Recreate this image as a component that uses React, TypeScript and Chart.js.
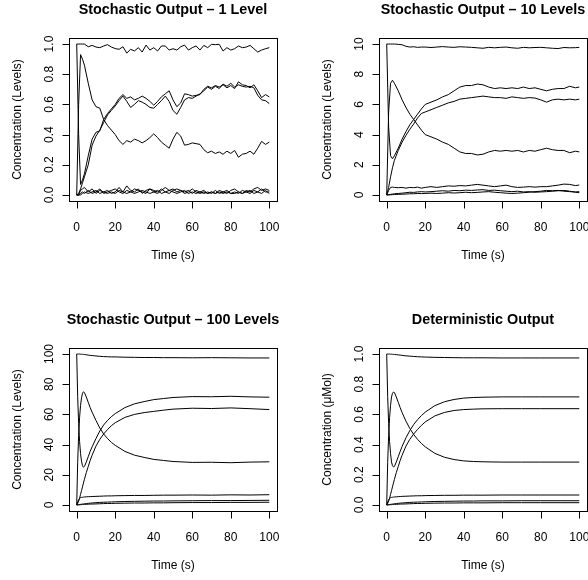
import React, { useEffect, useRef } from "react";
import { Chart, registerables } from "chart.js";
Chart.register(...registerables);

const FONT = '"Liberation Sans", Arial, Helvetica, sans-serif';

const X_TICKS = [0, 20, 40, 60, 80, 100];
const X_TICK_LABELS = ["0", "20", "40", "60", "80", "100"];
const X_TITLE = "Time (s)";

// ---------- Panel 1: Stochastic Output – 1 Level ----------
const T1 = [0, 1, 2, 3, 4, 6, 8, 10, 12, 14,
  16, 18, 20, 22, 24, 26, 28, 30, 32, 34,
  36, 38, 40, 42, 44, 46, 48, 50, 52, 54,
  56, 58, 60, 62, 64, 66, 68, 70, 72, 74,
  76, 78, 80, 82, 84, 86, 88, 90, 92, 94,
  96, 98, 100];
const A1 = [1, 1, 1, 1, 1, 0.982, 0.991, 0.98, 0.976, 0.987,
  0.996, 0.98, 0.97, 0.965, 0.982, 0.94, 0.965, 0.954, 0.976, 0.947,
  0.993, 0.96, 0.976, 0.954, 0.987, 0.987, 0.96, 0.969, 0.96, 0.982,
  0.993, 0.96, 0.976, 0.987, 0.96, 0.991, 0.976, 0.998, 0.996, 0.998,
  0.954, 0.976, 0.96, 0.969, 0.987, 0.976, 0.98, 0.991, 0.969, 0.947,
  0.96, 0.969, 0.976];
const B1 = [0, 0.6, 0.93, 0.9, 0.86, 0.74, 0.63, 0.585, 0.575, 0.5,
  0.46, 0.43, 0.4, 0.36, 0.335, 0.36, 0.35, 0.37, 0.36, 0.345,
  0.36, 0.38, 0.405, 0.38, 0.35, 0.33, 0.31, 0.37, 0.415, 0.39,
  0.33, 0.335, 0.345, 0.34, 0.335, 0.3, 0.28, 0.29, 0.275, 0.285,
  0.27, 0.29, 0.275, 0.295, 0.25, 0.27, 0.275, 0.29, 0.27, 0.31,
  0.355, 0.335, 0.35];
const C1 = [1, 0.4, 0.07, 0.1, 0.14, 0.26, 0.37, 0.415, 0.425, 0.5,
  0.54, 0.57, 0.6, 0.64, 0.665, 0.64, 0.65, 0.63, 0.64, 0.655,
  0.64, 0.62, 0.595, 0.62, 0.65, 0.67, 0.69, 0.63, 0.585, 0.61,
  0.67, 0.665, 0.655, 0.66, 0.665, 0.7, 0.72, 0.71, 0.725, 0.715,
  0.73, 0.71, 0.725, 0.705, 0.75, 0.73, 0.725, 0.71, 0.73, 0.69,
  0.645, 0.665, 0.65];
const D1 = [0, 0.01, 0.04, 0.08, 0.12, 0.2, 0.33, 0.39, 0.43, 0.48,
  0.53, 0.56, 0.59, 0.625, 0.655, 0.62, 0.58, 0.6, 0.625, 0.615,
  0.6, 0.58, 0.575, 0.6, 0.625, 0.655, 0.62, 0.56, 0.535, 0.58,
  0.63, 0.645, 0.64, 0.655, 0.67, 0.69, 0.715, 0.7, 0.72, 0.705,
  0.735, 0.72, 0.74, 0.715, 0.73, 0.72, 0.715, 0.72, 0.71, 0.66,
  0.63, 0.625, 0.605];
const E1 = [0, 0, 0.03, 0.04, 0.05, 0.02, 0.04, 0.01, 0.03, 0.02,
  0.03, 0.01, 0.02, 0.05, 0.02, 0.06, 0.03, 0.02, 0.04, 0.01,
  0.03, 0.04, 0.02, 0.01, 0.03, 0.05, 0.03, 0.04, 0.02, 0.03,
  0.01, 0.02, 0.04, 0.02, 0.01, 0.02, 0.01, 0.02, 0.01, 0.03,
  0.02, 0.01, 0.03, 0.04, 0.02, 0.01, 0.03, 0.02, 0.04, 0.05,
  0.03, 0.04, 0.03];
const F1 = [0, 0, 0.01, 0.02, 0.01, 0.03, 0.01, 0.02, 0.04, 0.01,
  0.02, 0.03, 0.04, 0.02, 0.01, 0.03, 0.02, 0.04, 0.03, 0.02,
  0.01, 0.04, 0.03, 0.02, 0.04, 0.02, 0.01, 0.03, 0.04, 0.03,
  0.02, 0.03, 0.01, 0.03, 0.02, 0.01, 0.02, 0.01, 0.03, 0.01,
  0.02, 0.03, 0.01, 0.02, 0.01, 0.03, 0.02, 0.01, 0.03, 0.02,
  0.04, 0.02, 0.02];
const G1 = [0, 0, 0, 0.01, 0.02, 0.01, 0.02, 0.03, 0.01, 0.02,
  0.01, 0.02, 0.01, 0.03, 0.02, 0.01, 0.02, 0.01, 0.02, 0.03,
  0.02, 0.01, 0.02, 0.03, 0.01, 0.02, 0.03, 0.02, 0.01, 0.02,
  0.03, 0.01, 0.02, 0.01, 0.02, 0.03, 0.01, 0.02, 0.01, 0.02,
  0.01, 0.02, 0.01, 0.01, 0.02, 0.01, 0.02, 0.03, 0.01, 0.02,
  0.01, 0.03, 0.01];

// ---------- Panel 2: Stochastic Output – 10 Levels ----------
const T2 = [0, 1, 2, 3, 4, 6, 8, 10, 12, 14,
  16, 18, 20, 23, 26, 29, 32, 35, 38, 41,
  44, 47, 50, 53, 56, 59, 62, 65, 68, 71,
  74, 77, 80, 83, 86, 89, 92, 95, 98, 100];
const A2 = [10, 10, 10, 10, 10, 9.98, 9.95, 9.85, 9.8, 9.82,
  9.78, 9.8, 9.8, 9.77, 9.8, 9.83, 9.8, 9.78, 9.82, 9.8,
  9.78, 9.75, 9.72, 9.78, 9.75, 9.78, 9.8, 9.75, 9.72, 9.78,
  9.75, 9.77, 9.78, 9.75, 9.72, 9.7, 9.77, 9.75, 9.76, 9.78];
const B2 = [0, 5.5, 7.4, 7.6, 7.4, 6.9, 6.3, 5.8, 5.35, 5.0,
  4.65, 4.3, 4.0, 3.85, 3.7, 3.5, 3.35, 3.1, 2.85, 2.75,
  2.75, 2.65, 2.7, 2.85, 2.95, 2.9, 2.95, 2.9, 2.95, 2.85,
  2.95, 2.9, 3.0, 3.1, 3.0, 2.95, 2.95, 2.8, 2.9, 2.85];
const C2 = [10, 4.5, 2.6, 2.4, 2.6, 3.1, 3.7, 4.2, 4.65, 5.0,
  5.35, 5.7, 6.0, 6.15, 6.3, 6.5, 6.65, 6.9, 7.15, 7.25,
  7.25, 7.35, 7.3, 7.15, 7.05, 7.1, 7.05, 7.1, 7.05, 7.15,
  7.05, 7.1, 7.0, 6.9, 7.0, 7.05, 7.05, 7.2, 7.1, 7.15];
const D2 = [0, 0.5, 1.2, 1.8, 2.3, 2.95, 3.5, 3.95, 4.35, 4.7,
  5.1, 5.4, 5.5, 5.65, 5.8, 5.95, 6.1, 6.2, 6.35, 6.4,
  6.45, 6.5, 6.55, 6.5, 6.45, 6.45, 6.4, 6.5, 6.45, 6.4,
  6.45, 6.42, 6.3, 6.15, 6.3, 6.35, 6.3, 6.35, 6.3, 6.35];
const E2 = [0, 0.3, 0.5, 0.52, 0.5, 0.48, 0.5, 0.45, 0.5, 0.48,
  0.52, 0.45, 0.5, 0.55, 0.5, 0.55, 0.6, 0.58, 0.62, 0.6,
  0.65, 0.7, 0.65, 0.6, 0.55, 0.6, 0.65, 0.55, 0.5, 0.52,
  0.55, 0.52, 0.55, 0.55, 0.6, 0.65, 0.72, 0.7, 0.62, 0.66];
const F2 = [0, 0.02, 0.04, 0.06, 0.08, 0.1, 0.12, 0.15, 0.18, 0.17,
  0.2, 0.22, 0.2, 0.22, 0.25, 0.28, 0.25, 0.3, 0.28, 0.32,
  0.3, 0.33, 0.35, 0.3, 0.32, 0.28, 0.25, 0.22, 0.25, 0.2,
  0.22, 0.18, 0.2, 0.22, 0.25, 0.28, 0.3, 0.25, 0.18, 0.15];
const G2 = [0, 0, 0.01, 0.02, 0.03, 0.04, 0.05, 0.06, 0.08, 0.08,
  0.1, 0.09, 0.1, 0.12, 0.1, 0.12, 0.15, 0.13, 0.15, 0.18,
  0.15, 0.17, 0.2, 0.22, 0.18, 0.15, 0.12, 0.1, 0.12, 0.15,
  0.18, 0.22, 0.25, 0.3, 0.28, 0.3, 0.25, 0.22, 0.2, 0.22];

// ---------- Panel 3: Stochastic Output – 100 Levels ----------
const T3 = [0, 0.5, 1, 1.5, 2, 2.5, 3, 3.5, 4, 5,
  6, 7, 8, 10, 12, 14, 16, 18, 20, 25,
  30, 35, 40, 45, 50, 60, 70, 80, 90, 100];
const A3 = [100, 100, 100, 100, 99.9, 99.9, 99.8, 99.8, 99.7, 99.5,
  99.3, 99.1, 99.0, 98.7, 98.5, 98.3, 98.2, 98.1, 98.1, 97.9,
  97.8, 97.7, 97.7, 97.6, 97.6, 97.5, 97.6, 97.5, 97.4, 97.4];
const B3 = [0, 28, 46, 58, 66, 71, 74, 75, 74.5, 71.5,
  68, 64.5, 61.5, 56, 51, 47, 44, 41.5, 39.5, 35.5,
  33, 31.5, 30.2, 29.5, 28.8, 28.2, 28.3, 28.0, 28.4, 28.6];
const C3 = [100, 72, 54, 42, 34, 29, 26, 25, 25.5, 28.5,
  32, 35.5, 38.5, 44, 49, 53, 56, 58.5, 60.5, 64.5,
  67, 68.5, 69.8, 70.5, 71.2, 71.8, 71.7, 72.0, 71.6, 71.4];
const D3 = [0, 1, 2.5, 4.5, 7, 9.5, 12, 14.5, 17, 21.5,
  25.5, 29.5, 33, 39, 43.5, 47, 50, 52.5, 54.5, 58,
  60, 61.2, 62, 62.8, 63.5, 64.1, 63.9, 64.3, 63.8, 63.2];
const E3 = [0, 2, 3.5, 4.3, 4.8, 5, 5.1, 5.2, 5.3, 5.4,
  5.5, 5.5, 5.6, 5.7, 5.8, 5.9, 6.0, 6.0, 6.1, 6.2,
  6.3, 6.3, 6.4, 6.5, 6.5, 6.6, 6.5, 6.7, 6.6, 6.8];
const F3 = [0, 0.1, 0.2, 0.3, 0.4, 0.5, 0.6, 0.7, 0.8, 0.9,
  1.1, 1.2, 1.3, 1.5, 1.7, 1.8, 1.9, 2.0, 2.1, 2.3,
  2.4, 2.5, 2.6, 2.6, 2.7, 2.8, 2.9, 2.9, 3.0, 3.1];
const G3 = [0, 0, 0.1, 0.1, 0.2, 0.2, 0.3, 0.3, 0.4, 0.4,
  0.5, 0.6, 0.6, 0.7, 0.8, 0.9, 1.0, 1.0, 1.1, 1.2,
  1.3, 1.3, 1.4, 1.4, 1.5, 1.6, 1.6, 1.7, 1.7, 1.8];

// ---------- Panel 4: Deterministic Output ----------
const T4 = [0, 0.5, 1, 1.5, 2, 2.5, 3, 3.5, 4, 5,
  6, 7, 8, 10, 12, 14, 16, 18, 20, 25,
  30, 35, 40, 45, 50, 60, 70, 80, 90, 100];
const A4 = [1, 1, 1, 1, 0.999, 0.999, 0.998, 0.998, 0.997, 0.996,
  0.994, 0.993, 0.991, 0.988, 0.986, 0.984, 0.982, 0.981, 0.98, 0.978,
  0.977, 0.976, 0.975, 0.975, 0.975, 0.974, 0.974, 0.974, 0.974, 0.974];
const B4 = [0, 0.28, 0.46, 0.58, 0.66, 0.715, 0.74, 0.748, 0.745, 0.715,
  0.68, 0.645, 0.612, 0.555, 0.507, 0.467, 0.435, 0.408, 0.385, 0.342,
  0.316, 0.301, 0.292, 0.288, 0.286, 0.284, 0.284, 0.284, 0.284, 0.284];
const C4 = [1, 0.72, 0.54, 0.42, 0.34, 0.285, 0.26, 0.252, 0.255, 0.285,
  0.32, 0.355, 0.388, 0.445, 0.493, 0.533, 0.565, 0.592, 0.615, 0.658,
  0.684, 0.699, 0.708, 0.712, 0.714, 0.716, 0.716, 0.716, 0.716, 0.716];
const D4 = [0, 0.01, 0.025, 0.045, 0.07, 0.095, 0.12, 0.145, 0.17, 0.215,
  0.255, 0.295, 0.33, 0.39, 0.435, 0.47, 0.5, 0.527, 0.55, 0.59,
  0.613, 0.626, 0.632, 0.635, 0.637, 0.638, 0.638, 0.638, 0.638, 0.638];
const E4 = [0, 0.02, 0.035, 0.043, 0.048, 0.05, 0.051, 0.052, 0.053, 0.054,
  0.055, 0.056, 0.057, 0.058, 0.059, 0.06, 0.061, 0.061, 0.062, 0.063,
  0.064, 0.064, 0.065, 0.065, 0.065, 0.066, 0.066, 0.066, 0.066, 0.066];
const F4 = [0, 0.001, 0.002, 0.003, 0.004, 0.005, 0.006, 0.007, 0.008, 0.009,
  0.011, 0.012, 0.013, 0.015, 0.017, 0.018, 0.019, 0.02, 0.021, 0.023,
  0.024, 0.025, 0.026, 0.026, 0.027, 0.027, 0.028, 0.028, 0.028, 0.028];
const G4 = [0, 0, 0.001, 0.001, 0.002, 0.002, 0.003, 0.003, 0.004, 0.004,
  0.005, 0.006, 0.006, 0.007, 0.008, 0.009, 0.01, 0.01, 0.011, 0.012,
  0.013, 0.013, 0.014, 0.014, 0.014, 0.015, 0.015, 0.015, 0.015, 0.015];

const Y_TICKS_UNIT = [0, 0.2, 0.4, 0.6, 0.8, 1.0];
const Y_LABELS_UNIT = ["0.0", "0.2", "0.4", "0.6", "0.8", "1.0"];
const Y_TICKS_10 = [0, 2, 4, 6, 8, 10];
const Y_LABELS_10 = ["0", "2", "4", "6", "8", "10"];
const Y_TICKS_100 = [0, 20, 40, 60, 80, 100];
const Y_LABELS_100 = ["0", "20", "40", "60", "80", "100"];

type PanelDef = {
  title: string;
  yTitle: string;
  yTicks: number[];
  yLabels: string[];
  yTop: number;
  time: number[];
  series: number[][];
};

const PANELS: PanelDef[] = [
  { title: "Stochastic Output \u2013 1 Level", yTitle: "Concentration (Levels)", yTicks: Y_TICKS_UNIT, yLabels: Y_LABELS_UNIT, yTop: 1, time: T1, series: [A1, B1, C1, D1, E1, F1, G1] },
  { title: "Stochastic Output \u2013 10 Levels", yTitle: "Concentration (Levels)", yTicks: Y_TICKS_10, yLabels: Y_LABELS_10, yTop: 10, time: T2, series: [A2, B2, C2, D2, E2, F2, G2] },
  { title: "Stochastic Output \u2013 100 Levels", yTitle: "Concentration (Levels)", yTicks: Y_TICKS_100, yLabels: Y_LABELS_100, yTop: 100, time: T3, series: [A3, B3, C3, D3, E3, F3, G3] },
  { title: "Deterministic Output", yTitle: "Concentration (\u03bcMol)", yTicks: Y_TICKS_UNIT, yLabels: Y_LABELS_UNIT, yTop: 1, time: T4, series: [A4, B4, C4, D4, E4, F4, G4] },
];

const CELL = 310;

function Panel({ def, left, top }: { def: PanelDef; left: number; top: number }) {
  const ref = useRef<HTMLCanvasElement | null>(null);
  useEffect(() => {
    const canvas = ref.current;
    if (!canvas) return;
    const rAxes = {
      id: "rAxes",
      afterDraw(chart: any) {
        const { ctx, chartArea: a, scales } = chart;
        const xs = scales.x;
        const ys = scales.y;
        ctx.save();
        ctx.strokeStyle = "#000";
        ctx.fillStyle = "#000";
        ctx.lineWidth = 1;
        const L = Math.round(a.left) + 0.5;
        const R = Math.round(a.right) + 0.5;
        const T = Math.round(a.top) + 0.5;
        const B = Math.round(a.bottom) + 0.5;
        ctx.strokeRect(L, T, R - L, B - T);
        // x axis
        const x0 = Math.round(xs.getPixelForValue(X_TICKS[0])) + 0.5;
        const x1 = Math.round(xs.getPixelForValue(X_TICKS[X_TICKS.length - 1])) + 0.5;
        ctx.beginPath();
        ctx.moveTo(x0, B);
        ctx.lineTo(x1, B);
        X_TICKS.forEach((v) => {
          const px = Math.round(xs.getPixelForValue(v)) + 0.5;
          ctx.moveTo(px, B);
          ctx.lineTo(px, B + 7);
        });
        // y axis
        const y0 = Math.round(ys.getPixelForValue(def.yTicks[0])) + 0.5;
        const y1 = Math.round(ys.getPixelForValue(def.yTicks[def.yTicks.length - 1])) + 0.5;
        ctx.moveTo(L, y0);
        ctx.lineTo(L, y1);
        def.yTicks.forEach((v) => {
          const py = Math.round(ys.getPixelForValue(v)) + 0.5;
          ctx.moveTo(L, py);
          ctx.lineTo(L - 7, py);
        });
        ctx.stroke();
        // tick labels
        ctx.font = `12px ${FONT}`;
        ctx.textAlign = "center";
        ctx.textBaseline = "alphabetic";
        X_TICKS.forEach((v, i) => {
          ctx.fillText(X_TICK_LABELS[i], xs.getPixelForValue(v), a.bottom + 29.5);
        });
        def.yTicks.forEach((v, i) => {
          ctx.save();
          ctx.translate(a.left - 16.5, ys.getPixelForValue(v));
          ctx.rotate(-Math.PI / 2);
          ctx.fillText(def.yLabels[i], 0, 0);
          ctx.restore();
        });
        // axis titles
        ctx.fillText(X_TITLE, (a.left + a.right) / 2, a.bottom + 57.5);
        ctx.save();
        ctx.translate(20.5, (a.top + a.bottom) / 2);
        ctx.rotate(-Math.PI / 2);
        ctx.fillText(def.yTitle, 0, 0);
        ctx.restore();
        // main title
        ctx.font = `bold 14.4px ${FONT}`;
        ctx.fillText(def.title, (a.left + a.right) / 2, 13.5);
        ctx.restore();
      },
    };
    const pad = def.yTop * 0.04;
    const chart = new Chart(canvas, {
      type: "line",
      data: {
        datasets: def.series.map((s) => ({
          data: def.time.map((t, i) => ({ x: t, y: s[i] })),
          borderColor: "#000",
          borderWidth: 1,
          pointRadius: 0,
          tension: 0,
          fill: false,
        })),
      },
      options: {
        responsive: false,
        animation: false,
        devicePixelRatio: 1,
        events: [],
        layout: { padding: { left: 69, top: 38, right: 33, bottom: 109 } },
        scales: {
          x: { type: "linear", min: -4, max: 104, display: false },
          y: { type: "linear", min: -pad, max: def.yTop + pad, display: false },
        },
        plugins: {
          legend: { display: false },
          tooltip: { enabled: false },
          title: { display: false },
        },
      },
      plugins: [rAxes],
    } as any);
    return () => chart.destroy();
  }, [def]);
  return (
    <canvas
      ref={ref}
      width={CELL}
      height={CELL}
      style={{ position: "absolute", left, top, width: CELL, height: CELL, display: "block" }}
    />
  );
}

export default function App() {
  return (
    <div
      style={{
        position: "absolute",
        left: 0,
        top: 0,
        width: 588,
        height: 580,
        overflow: "hidden",
        background: "#fff",
      }}
    >
      <Panel def={PANELS[0]} left={0} top={0} />
      <Panel def={PANELS[1]} left={CELL} top={0} />
      <Panel def={PANELS[2]} left={0} top={CELL} />
      <Panel def={PANELS[3]} left={CELL} top={CELL} />
    </div>
  );
}
